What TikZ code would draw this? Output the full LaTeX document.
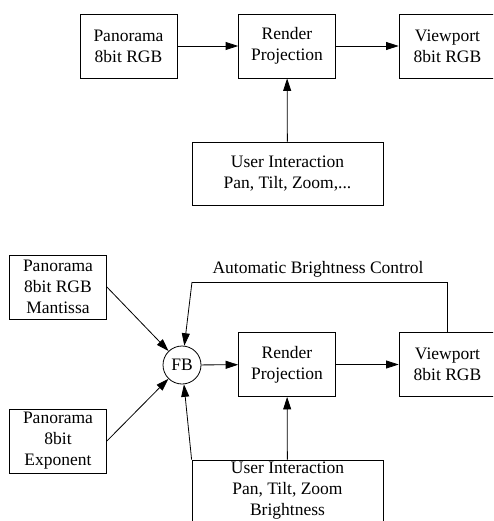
\documentclass[tikz,border=0pt]{standalone}
\usepackage{fontspec}
\setmainfont{Liberation Serif}
\usetikzlibrary{arrows.meta}
\begin{document}
\begin{tikzpicture}[x=1pt,y=-1pt,
  box/.style={draw,line width=0.8pt,inner sep=0pt,align=center,
    minimum width=97pt,minimum height=64pt,font=\fontsize{17.5}{21}\selectfont},
  widebox/.style={box,minimum width=191pt,minimum height=63pt},
  junction/.style={draw,line width=0.8pt,circle,inner sep=0pt,minimum size=38pt,
    font=\fontsize{17.5}{21}\selectfont},
  arr/.style={line width=0.8pt,-{Triangle[length=12.5pt,width=8pt]}},
  plain/.style={line width=0.8pt},
  lbl/.style={font=\fontsize{17.5}{21}\selectfont,inner sep=0pt}]
\useasboundingbox (0,0) rectangle (493,521);
\clip (0,0) rectangle (493,521);

% upper pipeline: plain 8-bit rendering
\node[box] (pan) at (128.5,46) {Panorama\\8bit RGB};
\node[box] (render) at (287,46) {Render\\Projection};
\node[box] (vp) at (447.5,46) {Viewport\\8bit RGB};
\node[widebox] (ui) at (287.5,173.5) {User Interaction\\Pan, Tilt, Zoom,...};
\draw[arr] (pan) -- (render);
\draw[arr] (render) -- (vp);
\draw[arr] (ui) -- (render);

% lower pipeline: mantissa/exponent with brightness feedback
\node[box] (mant) at (58,287) {Panorama\\8bit RGB\\Mantissa};
\node[box] (expo) at (58,441) {Panorama\\8bit\\Exponent};
\node[junction] (fb) at (182,365) {FB};
\node[box] (render2) at (287,364.5) {Render\\Projection};
\node[box] (vp2) at (447.5,364.5) {Viewport\\8bit RGB};
\node[widebox,minimum height=61pt] (ui2) at (287.5,490.5) {User Interaction\\Pan, Tilt, Zoom\\Brightness};
\coordinate (fbc) at (192,282);
\node[lbl] (abc) at (318,269) {Automatic Brightness Control};

\draw[arr] (mant.east) -- (fb);
\draw[arr] (expo.east) -- (fb);
\draw[arr] (fb) -- (render2);
\draw[arr] (render2) -- (vp2);
\draw[arr] (ui2) -- (render2);
\draw[arr] (ui2.north west) -- (fb);
\draw[plain] (vp2.north) |- (fbc);
\draw[arr] (fbc) -- (fb);
\end{tikzpicture}
\end{document}
